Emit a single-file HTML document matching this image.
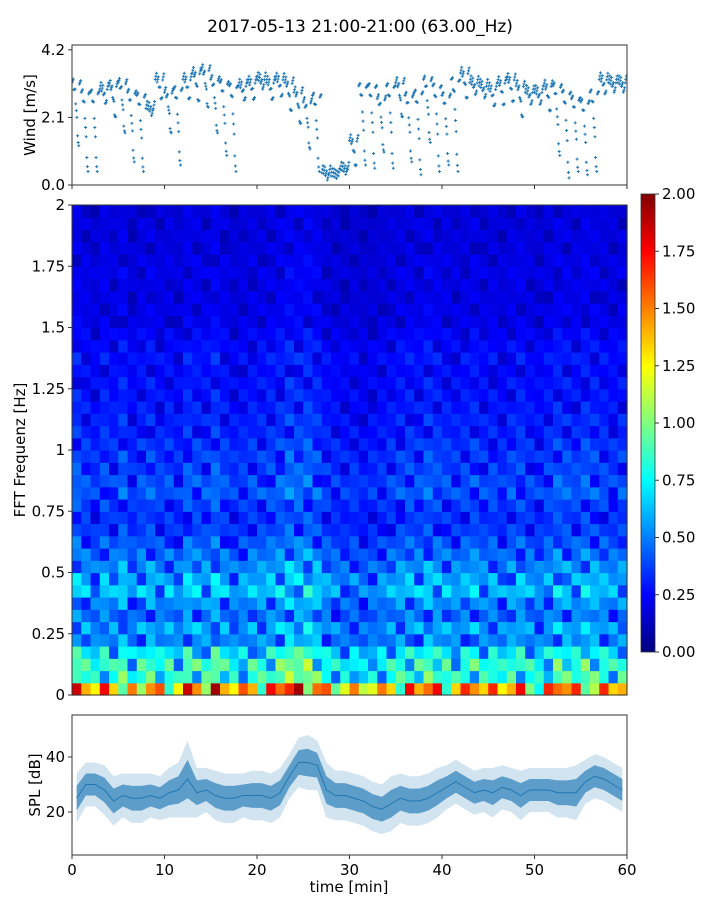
<!DOCTYPE html>
<html><head><meta charset="utf-8"><style>
body{margin:0;background:#fff;}
svg text{font-family:"DejaVu Sans","Liberation Sans",sans-serif;fill:#000;}
</style></head><body>
<svg id="c" width="720" height="900" xmlns="http://www.w3.org/2000/svg">
<defs>
<linearGradient id="jet" x1="0" y1="1" x2="0" y2="0">
<stop offset="0" stop-color="#000080"/><stop offset="0.125" stop-color="#0000ff"/><stop offset="0.375" stop-color="#00ffff"/><stop offset="0.625" stop-color="#ffff00"/><stop offset="0.875" stop-color="#ff0000"/><stop offset="1" stop-color="#800000"/>
</linearGradient>
<clipPath id="clipTop"><rect x="72" y="45" width="555" height="140"/></clipPath>
<clipPath id="clipBot"><rect x="72" y="715" width="555" height="140"/></clipPath>
</defs>
<text x="360" y="32" font-size="17" text-anchor="middle">2017-05-13 21:00-21:00 (63.00_Hz)</text>
<g id="topPanel"></g><g id="heat"></g><g id="botPanel"></g><g id="cbar"></g>
</svg>
<script>
const windHi=[3.3,3.0,3.0,3.1,3.2,3.3,3.0,2.9,2.5,3.4,3.0,3.1,3.4,3.6,3.7,3.4,3.3,3.2,3.2,3.3,3.4,3.3,3.4,3.3,3.0,2.7,2.9,0.5,0.4,0.6,1.5,3.2,3.2,2.8,3.2,3.3,2.9,3.0,3.4,3.2,2.9,3.4,3.6,3.3,3.2,3.1,3.3,3.4,3.2,3.0,3.0,3.2,3.2,3.0,2.8,2.7,3.0,3.4,3.3,3.3];
const windLo=[1.1,0.3,0.3,2.5,2.0,1.5,0.6,0.3,2.2,2.6,1.5,0.5,2.6,2.5,2.3,1.5,0.8,0.3,2.6,2.6,3.0,2.6,2.7,2.2,1.8,1.0,0.3,0.2,0.3,0.4,0.5,0.5,0.4,0.9,0.4,2.0,0.6,0.2,1.2,0.3,0.5,0.3,2.6,2.8,2.7,2.4,2.4,2.5,2.0,2.5,2.5,2.2,0.8,0.1,0.3,0.2,0.3,2.8,2.9,2.9];
const windTicks=[0.0,2.1,4.2];
const splMean=[25,30,30,28,24,26,25,25,26,25,27,28,32,27,28,26,25,25,26,26,26,25,27,33,38,38,37,28,26,26,25,24,22,21,23,25,24,24,25,27,29,31,29,27,28,27,29,28,26,28,28,28,27,27,27,31,33,32,30,28];
const splSpread=[9,8,8,9,9,8,9,9,8,8,9,10,14,9,8,9,9,9,8,9,9,9,9,8,9,10,9,10,9,9,9,9,9,9,10,9,9,9,9,9,8,8,8,8,8,9,8,8,9,8,8,8,9,9,10,8,8,8,8,8];
const splTicks=[20,40];
const freqProfile=[1.4,0.8,0.8,0.7,0.5,0.55,0.45,0.5,0.6,0.55,0.5,0.45,0.4,0.35,0.33,0.35,0.4,0.38,0.35,0.35,0.33,0.3,0.3,0.28,0.27,0.27,0.25,0.27,0.25,0.23,0.2,0.2,0.19,0.19,0.2,0.19,0.18,0.18,0.18,0.17];
const timeFactor=[1.1,1.0,0.9,1.05,0.95,1.1,0.9,1.0,1.05,0.95,1.0,0.9,1.1,1.05,1.0,1.15,1.0,0.9,0.95,1.0,1.0,1.05,1.1,1.2,1.15,1.2,1.1,0.95,0.9,0.85,0.9,0.8,0.85,0.9,0.95,1.0,1.05,1.0,1.1,1.05,1.0,0.95,1.0,1.05,0.95,1.0,0.9,1.0,1.05,0.95,0.9,1.0,1.1,1.05,1.0,1.1,1.05,1.0,0.95,1.0];
const freqTicks=[0,0.25,0.5,0.75,1,1.25,1.5,1.75,2];
const freqTickLabels=["0","0.25","0.5","0.75","1","1.25","1.5","1.75","2"];
const cbTicks=[0,0.25,0.5,0.75,1,1.25,1.5,1.75,2];
const timeTicks=[0,10,20,30,40,50,60];
const scatterFrac=[0,0.03,0.06,0.1,0.15,0.2,0.3,0.45,0.6,0.75,0.9,1.0,0.02,0.05,0.08];

const NS="http://www.w3.org/2000/svg";
function mk(tag,attrs,parent){const e=document.createElementNS(NS,tag);for(const k in attrs)e.setAttribute(k,attrs[k]);parent.appendChild(e);return e;}
const X=t=>72+t/60*555;
const Ywind=v=>185-v/4.35*140;
const Yfreq=f=>695-f/2*490;
const Yspl=v=>867-v*2.75;
const Ycb=v=>652-v/2*458;
function jet(v){v=Math.max(0,Math.min(1,v));
 const r=Math.max(0,Math.min(1,1.5-Math.abs(4*v-3))),g=Math.max(0,Math.min(1,1.5-Math.abs(4*v-2))),b=Math.max(0,Math.min(1,1.5-Math.abs(4*v-1)));
 return `rgb(${Math.round(r*255)},${Math.round(g*255)},${Math.round(b*255)})`;}

function frame(g,y,h,name){const r=mk('rect',{x:72,y:y,width:555,height:h,fill:'none',stroke:'#333','stroke-width':1},g);}
function yLabel(g,x,y,txt,name){const t=mk('text',{x:x,y:y,'font-size':15,'text-anchor':'middle',transform:`rotate(-90 ${x} ${y})`},g);t.textContent=txt;}

// top wind panel
const topG=document.getElementById('topPanel');
const wg=mk('g',{'clip-path':'url(#clipTop)'},topG);
windHi.forEach((hi,i)=>{
 const lo=windLo[i];
 scatterFrac.forEach((f,j)=>{
  const v=hi-(hi-lo)*f+(j%3-1)*0.12;
  const x=X(i+(j/scatterFrac.length));
  const y=Ywind(v);
  const p=mk('path',{d:`M${x-1.5},${y}h3M${x},${y-1.5}v3`,stroke:'#1f77b4','stroke-width':1},wg);
  
  
 });
});
frame(topG,45,140,'wind-panel-frame');
windTicks.forEach(v=>{const y=Ywind(v);mk('line',{x1:68,x2:72,y1:y,y2:y,stroke:'#333'},topG);const t=mk('text',{x:65,y:y+5,'font-size':15,'text-anchor':'end'},topG);t.textContent=v.toFixed(1);});
timeTicks.forEach(v=>mk('line',{x1:X(v),x2:X(v),y1:185,y2:189,stroke:'#333'},topG));
yLabel(topG,35,115,'Wind [m/s]','wind-axis-title');

// heatmap
const heat=document.getElementById('heat');
const rows=freqProfile.length;
for(let c=0;c<timeFactor.length;c++){for(let r=0;r<rows;r++){
 const m=(r+c)%3===0?1.2:((r*7+c)%5===0?0.6:((r*3+c*2)%7===0?0.75:1));
 const v=freqProfile[r]*timeFactor[c]*m;
 const y0=Yfreq((r+1)*2/rows),y1=Yfreq(r*2/rows);
 const rc=mk('rect',{x:X(c),y:y0,width:555/60+0.6,height:y1-y0+0.6,fill:jet(v/2)},heat);
 
 
}}
frame(heat,205,490,'heatmap-frame');
freqTicks.forEach((f,i)=>{const y=Yfreq(f);mk('line',{x1:68,x2:72,y1:y,y2:y,stroke:'#333'},heat);const t=mk('text',{x:65,y:y+5,'font-size':15,'text-anchor':'end'},heat);t.textContent=freqTickLabels[i];});
yLabel(heat,25,450,'FFT Frequenz [Hz]','freq-axis-title');

// colorbar
const cb=document.getElementById('cbar');
const cr=mk('rect',{x:641,y:194,width:14,height:458,fill:'url(#jet)',stroke:'#333','stroke-width':0.8},cb);

cbTicks.forEach(v=>{const y=Ycb(v);mk('line',{x1:655,x2:659,y1:y,y2:y,stroke:'#333'},cb);const t=mk('text',{x:662,y:y+5,'font-size':15},cb);t.textContent=v.toFixed(2);});

// SPL panel
const botG=document.getElementById('botPanel');
const bg=mk('g',{'clip-path':'url(#clipBot)'},botG);
let up='',dn='',ln='',in1='',in2='';
splMean.forEach((m,i)=>{const x=X(i+0.5);const s=splSpread[i];up+=`${i?'L':'M'}${x},${Yspl(m+s)}`;dn=`L${x},${Yspl(m-s)}`+dn;in1+=`${i?'L':'M'}${x},${Yspl(m+s*0.5)}`;in2=`L${x},${Yspl(m-s*0.5)}`+in2;ln+=`${i?'L':'M'}${x},${Yspl(m)}`;});
const b1=mk('path',{d:up+dn+'Z',fill:'#1f77b4','fill-opacity':0.2},bg);
const b2=mk('path',{d:in1+in2+'Z',fill:'#1f77b4','fill-opacity':0.65},bg);
const ml=mk('path',{d:ln,fill:'none',stroke:'#1f77b4','stroke-width':1},bg);
frame(botG,715,140,'spl-panel-frame');
splTicks.forEach(v=>{const y=Yspl(v);mk('line',{x1:68,x2:72,y1:y,y2:y,stroke:'#333'},botG);const t=mk('text',{x:65,y:y+5,'font-size':15,'text-anchor':'end'},botG);t.textContent=v;});
timeTicks.forEach(v=>{mk('line',{x1:X(v),x2:X(v),y1:855,y2:859,stroke:'#333'},botG);const t=mk('text',{x:X(v),y:875,'font-size':15,'text-anchor':'middle'},botG);t.textContent=v;});
yLabel(botG,40,785,'SPL [dB]','spl-axis-title');
const xt=mk('text',{x:349,y:892,'font-size':15,'text-anchor':'middle'},botG);xt.textContent='time [min]';


</script>
</body></html>
